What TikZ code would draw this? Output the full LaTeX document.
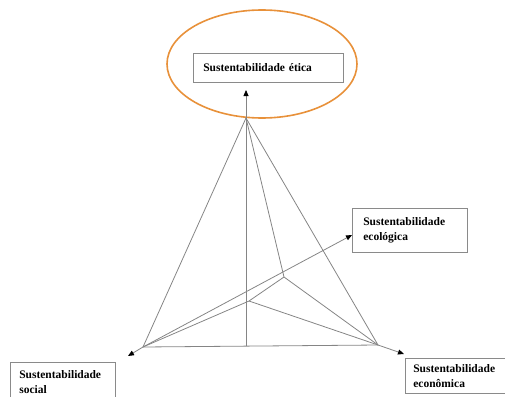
\documentclass[tikz,border=0pt]{standalone}
\usepackage{fontspec}
\setmainfont{Liberation Serif}
\usetikzlibrary{arrows.meta,shapes.geometric}
\definecolor{linegray}{HTML}{858585}
\definecolor{boxgray}{HTML}{8A8A8A}
\definecolor{ovalorange}{HTML}{E8913A}
\begin{document}
\begin{tikzpicture}[x=1pt,y=-1pt,
  edge/.style={draw=linegray, line width=0.8pt},
  axis/.style={edge, -{Triangle[length=6pt,width=5pt,color=black]}},
  labelbox/.style={draw=boxgray, line width=0.6pt, font=\fontsize{11.5}{15}\selectfont\bfseries, align=left, anchor=north west, inner ysep=2pt}]
\useasboundingbox (0,0) rectangle (505,396);
\clip (0,0) rectangle (505,396);
% oval
\node[ellipse, draw=ovalorange, line width=1.6pt, minimum width=190pt, minimum height=108pt, inner sep=0pt] (oval) at (262,64) {};
% labels
\node[labelbox, text width=130pt, inner xsep=10pt, minimum height=29pt] (etica) at (193,53) {Sustentabilidade ética};
\node[labelbox, text width=93pt, inner xsep=11pt, minimum height=44pt] (ecol) at (352,208) {Sustentabilidade\\ecológica};
\node[labelbox, text width=87pt, inner xsep=9pt, minimum height=40pt] (social) at (10,362) {Sustentabilidade\\social};
\node[labelbox, text width=92pt, inner xsep=8pt, minimum height=35pt] (econ) at (405,358) {Sustentabilidade\\econômica};
% points
\coordinate (T) at (246,118);
\coordinate (BL) at (143,347);
\coordinate (BR) at (378,345);
\coordinate (B) at (284,277);
\coordinate (Q) at (249,301);
\coordinate (V0) at (246,346);
\coordinate (Vtop) at (246,90);
\coordinate (Etip) at (352,235);
\coordinate (Stip) at (128,356);
\coordinate (Ctip) at (404,354);
% edges
\draw[edge] (T) -- (BL) -- (BR) -- cycle;
\draw[edge] (T) -- (B) -- (BR);
\draw[edge] (BL) -- (Q) -- (B);
\draw[edge] (Q) -- (BR);
% axes
\draw[axis] (V0) -- (Vtop);
\draw[axis] (BL) -- (Etip);
\draw[axis] (BL) -- (Stip);
\draw[axis] (BR) -- (Ctip);
\end{tikzpicture}
\end{document}
